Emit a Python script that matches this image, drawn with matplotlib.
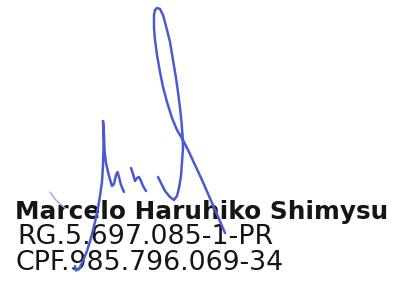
import matplotlib
matplotlib.use("Agg")
import matplotlib.pyplot as plt

# name block (three lines under the signature)
name_line = "Marcelo Haruhiko Shimysu"
rg_line = "RG.5.697.085-1-PR"
cpf_line = "CPF.985.796.069-34"

# signature strokes, traced in pixel coords of the 400x288 picture
stroke_m_x = [75, 76, 79, 83, 87, 91, 95, 98, 100, 102, 103, 103.5, 103.5, 103,
              104, 104.5, 106, 109, 112, 114, 116, 117.5, 119, 121, 124]
stroke_m_y = [266, 270.5, 269, 261, 251, 238, 222, 208, 196, 182, 165, 148, 133, 121,
              135, 150, 163, 176, 186, 184, 175, 172, 177, 185, 192]

stroke_n_x = [131, 133, 135, 137, 139, 141, 143, 146]
stroke_n_y = [168, 174, 181, 178, 177, 181, 186, 191]

stroke_l_x = [158, 161, 165, 170, 174, 177, 179, 181, 182, 183, 182.5, 181.5, 180, 178,
              176, 173, 170, 166, 163, 160, 157, 155, 154, 154, 155, 157, 160, 163,
              167, 172, 177, 183, 189, 195, 202, 209, 216, 222, 225]
stroke_l_y = [177, 183, 191, 197, 200, 196, 188, 176, 162, 148, 135, 122, 108, 92,
              78, 60, 42, 26, 15, 9, 8, 10, 15, 28, 40, 55, 72, 87,
              102, 118, 130, 140, 152, 165, 180, 196, 212, 226, 233]

stroke_faint_x = [50, 55, 60, 65]
stroke_faint_y = [192, 199, 204, 208]

ink = "#4a5bd2"

fig = plt.figure(figsize=(4, 2.88), dpi=100)
ax = fig.add_axes([0, 0, 1, 1])
ax.set_xlim(0, 400)
ax.set_ylim(288, 0)
ax.axis("off")

ax.text(15, 219.5, name_line, fontsize=17.8, fontweight="bold", family="DejaVu Sans",
        color="#151515", va="baseline", ha="left")
ax.text(17, 243.5, rg_line, fontsize=19.4, family="DejaVu Sans",
        color="#151515", va="baseline", ha="left")
ax.text(15.5, 270.5, cpf_line, fontsize=19.3, family="DejaVu Sans",
        color="#151515", va="baseline", ha="left")

for xs, ys in [(stroke_m_x, stroke_m_y), (stroke_n_x, stroke_n_y), (stroke_l_x, stroke_l_y)]:
    ax.plot(xs, ys, color=ink, lw=1.8, solid_joinstyle="round", solid_capstyle="round", zorder=5)
ax.plot(stroke_faint_x, stroke_faint_y, color="#9aa5e3", lw=1.0, solid_capstyle="round", zorder=5)

fig.savefig("out.png", dpi=100)
